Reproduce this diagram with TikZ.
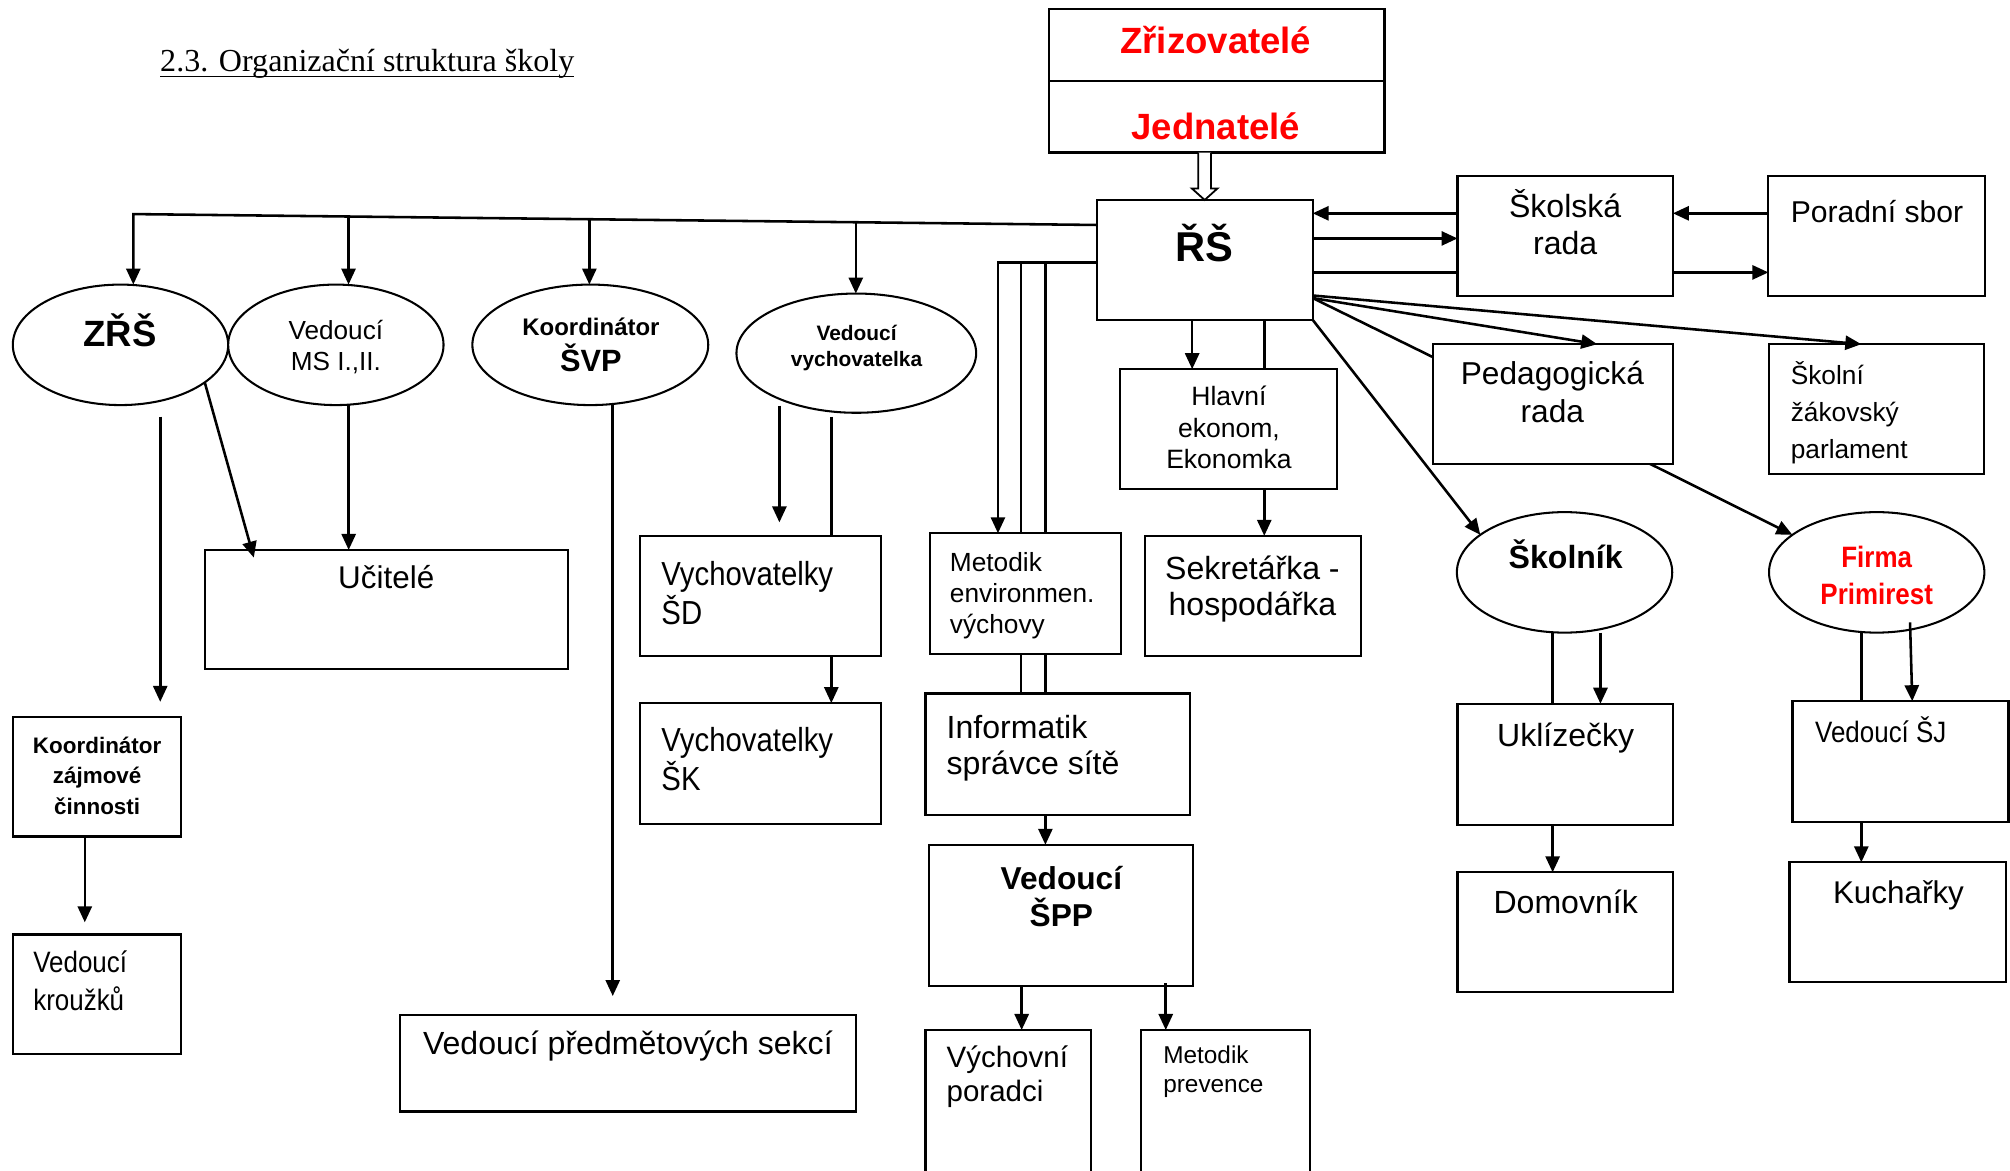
\documentclass[tikz,border=0pt]{standalone}
\usepackage{fontspec}
\setmainfont{Liberation Sans}
\newfontfamily\narrowf[FakeStretch=0.88]{Liberation Sans}
\newfontfamily\serf{Liberation Serif}
\usetikzlibrary{arrows.meta,shapes.geometric,calc}
\pgfdeclarelayer{bg}
\pgfsetlayers{bg,main}
\definecolor{zred}{RGB}{255,0,0}
\newcommand\fs[2]{\fontsize{#1pt}{#2pt}\selectfont}
\newcommand\clines[1]{\vtop{\halign{\hfil##\hfil\cr#1\crcr}}}
\newcommand\llines[1]{\vtop{\halign{##\hfil\cr#1\crcr}}}
\begin{document}
\begin{tikzpicture}[x=1pt,y=-1pt,
  box/.style={draw, line width=1.7pt, fill=white, rectangle, inner sep=0pt, outer sep=0pt},
  oval/.style={draw, line width=1.6pt, fill=white, ellipse, inner sep=0pt, outer sep=0pt},
  txt/.style={inner sep=0pt, outer sep=0pt, anchor=base},
  ltxt/.style={inner sep=0pt, outer sep=0pt, anchor=base west},
  con/.style={line width=2pt},
  arr/.style={con, -{Triangle[length=12.5pt,width=11pt]}}]
\useasboundingbox (0,0) rectangle (1568,913);

% ---------- boxes ----------
\node[box, minimum width=262pt, minimum height=112pt] (zr) at (949,63) {};
\node[box, minimum width=168.5pt, minimum height=93.5pt] (rs) at (939.75,202.75) {};
\node[box, minimum width=168pt, minimum height=94pt] (sr) at (1221,184) {};
\node[box, minimum width=169pt, minimum height=94pt] (por) at (1464,184) {};
\node[box, minimum width=187pt, minimum height=93.5pt] (pr) at (1211.5,315.25) {};
\node[box, minimum width=168pt, minimum height=101pt] (parl) at (1464,319) {};
\node[box, minimum width=169pt, minimum height=93.5pt] (he) at (958.5,334.75) {};
\node[box, minimum width=168.5pt, minimum height=94pt] (sek) at (977.25,465) {};
\node[box, minimum width=149pt, minimum height=94pt] (me) at (800,463) {};
\node[box, minimum width=206pt, minimum height=95pt] (inf) at (825,588.5) {};
\node[box, minimum width=206pt, minimum height=110pt] (spp) at (827.5,714) {};
\node[box, minimum width=129pt, minimum height=126.5pt] (vp) at (786.5,866.75) {};
\node[box, minimum width=132pt, minimum height=126.5pt] (mp) at (956,866.75) {};
\node[box, minimum width=283pt, minimum height=93pt] (uc) at (301.5,475.5) {};
\node[box, minimum width=131.3pt, minimum height=93pt] (kzc) at (75.65,606) {};
\node[box, minimum width=131.3pt, minimum height=93pt] (vk) at (75.65,775.5) {};
\node[box, minimum width=355.5pt, minimum height=75.5pt] (vps) at (489.75,829.25) {};
\node[box, minimum width=188pt, minimum height=94pt] (sd) at (593,465) {};
\node[box, minimum width=188pt, minimum height=94pt] (sk) at (593,595.5) {};
\node[box, minimum width=168pt, minimum height=94.5pt] (ukl) at (1221,596.25) {};
\node[box, minimum width=168pt, minimum height=93.5pt] (dom) at (1221,727.25) {};
\node[box, minimum width=168.5pt, minimum height=94pt] (sj) at (1482.5,594) {};
\node[box, minimum width=168.7pt, minimum height=93.1pt] (kuch) at (1480.35,719.25) {};

% ---------- ellipses ----------
\node[oval, minimum width=168pt, minimum height=94pt] (zrs) at (94,269) {};
\node[oval, minimum width=168pt, minimum height=94pt] (ms) at (262,269) {};
\node[oval, minimum width=184pt, minimum height=94pt] (svp) at (460.5,269) {};
\node[oval, minimum width=187pt, minimum height=93pt] (vych) at (668,275.5) {};
\node[oval, minimum width=168pt, minimum height=94pt] (skol) at (1220.5,446.5) {};
\node[oval, minimum width=168pt, minimum height=94pt] (firma) at (1464,446.5) {};

\draw[line width=1.7pt] (zr.west) -- (zr.east);

% ---------- texts ----------
\node[ltxt, font=\serf\fs{25}{30}] (title) at (125,56) {2.3. Organizační struktura školy};
\draw[line width=1.2pt] ($(title.base west)+(0,3.5)$) -- ($(title.base east)+(0,3.5)$);
\node[txt, font=\bfseries\fs{28.5}{32}, text=zred] (t-zr) at (948.5,41.6) {Zřizovatelé};
\node[txt, font=\bfseries\fs{28.5}{32}, text=zred] (t-jd) at (948.5,109) {Jednatelé};
\node[txt, font=\bfseries\fs{32.5}{36}] (t-rs) at (939.5,204) {ŘŠ};
\node[txt, font=\fs{25}{28.5}] (t-sr) at (1221,170) {\clines{Školská\cr rada}};
\node[ltxt, font=\fs{23.5}{27}] (t-por) at (1397,173.5) {Poradní sbor};
\node[txt, font=\fs{24.7}{29.4}] (t-pr) at (1211,300) {\clines{Pedagogická\cr rada}};
\node[ltxt, font=\fs{20.5}{28.8}] (t-parl) at (1397,300) {\llines{Školní\cr žákovský\cr parlament}};
\node[txt, font=\fs{20.7}{24.5}] (t-he) at (958.7,316.7) {\clines{Hlavní\cr ekonom,\cr Ekonomka}};
\node[txt, font=\fs{25}{28.5}] (t-sek) at (977,452) {\clines{Sekretářka -\cr hospodářka}};
\node[ltxt, font=\fs{20.5}{24.2}] (t-me) at (741,446) {\llines{Metodik\cr environmen.\cr výchovy}};
\node[ltxt, font=\fs{25}{28.5}] (t-inf) at (738.5,576) {\llines{Informatik\cr správce sítě}};
\node[txt, font=\bfseries\fs{24.7}{28.5}] (t-spp) at (828,694) {\clines{Vedoucí\cr ŠPP}};
\node[ltxt, font=\fs{23}{26}] (t-vp) at (738.5,833) {\llines{Výchovní\cr poradci}};
\node[ltxt, font=\fs{19}{22}] (t-mp) at (907.5,830) {\llines{Metodik\cr prevence}};
\node[txt, font=\bfseries\fs{25}{28}] (t-skol) at (1221.4,443.4) {Školník};
\node[txt, font=\narrowf\bfseries\fs{23}{28.8}, text=zred] (t-firma) at (1464,442.6) {\clines{Firma\cr Primirest}};
\node[txt, font=\fs{25}{28}] (t-ukl) at (1221.4,582) {Uklízečky};
\node[txt, font=\fs{25}{28}] (t-dom) at (1221.4,712.5) {Domovník};
\node[ltxt, font=\narrowf\fs{23}{27}] (t-sj) at (1416,579.4) {Vedoucí ŠJ};
\node[txt, font=\fs{24.5}{28}] (t-kuch) at (1481,704.7) {Kuchařky};
\node[txt, font=\fs{24.5}{28}] (t-uc) at (301.3,459.2) {Učitelé};
\node[txt, font=\fs{25}{28}] (t-vps) at (489.8,822.5) {Vedoucí předmětových sekcí};
\node[ltxt, font=\narrowf\fs{26}{30.6}] (t-sd) at (516,456.4) {\llines{Vychovatelky\cr ŠD}};
\node[ltxt, font=\narrowf\fs{26}{30.6}] (t-sk) at (516,586.4) {\llines{Vychovatelky\cr ŠK}};
\node[txt, font=\bfseries\fs{17.5}{23.8}] (t-kzc) at (75.8,587.5) {\clines{Koordinátor\cr zájmové\cr činnosti}};
\node[ltxt, font=\narrowf\fs{23}{29}] (t-vk) at (26,759) {\llines{Vedoucí\cr kroužků}};
\node[txt, font=\bfseries\fs{28.5}{32}] (t-zrs) at (93.5,270.4) {ZŘŠ};
\node[txt, font=\fs{20.4}{24}] (t-ms) at (262,265) {\clines{Vedoucí\cr MS I.,II.}};
\node[txt, font=\bfseries\fs{24}{27.5}] (t-svp) at (461,262) {\clines{\fs{18.7}{22}Koordinátor\cr ŠVP}};
\node[txt, font=\bfseries\fs{16.3}{20}] (t-vych) at (668.2,266) {\clines{Vedoucí\cr vychovatelka}};

% ---------- hollow arrow Zřizovatelé -> ŘŠ ----------
\coordinate (oa) at (rs.north |- zr.south);
\filldraw[fill=white, line width=1.4pt] ($(oa)+(-5,0)$) -- ($(rs.north)+(-5,-9)$) -- ($(rs.north)+(-10,-9)$) -- (rs.north) -- ($(rs.north)+(10,-9)$) -- ($(rs.north)+(5,-9)$) -- ($(oa)+(5,0)$);

% ---------- connectors (front) ----------
\coordinate (tl) at (104,167);
\coordinate (rsl) at ($(rs.north west)+(0,19.5)$);
\draw[arr] (rsl) -- (tl) -- (tl |- zrs.north);
\coordinate (b2) at ($(tl)!0.2234!(rsl)$);
\draw[arr] (b2) -- (b2 |- ms.north);
\coordinate (b3) at ($(tl)!0.4734!(rsl)$);
\draw[arr] (b3) -- (b3 |- svp.north);
\coordinate (b4) at ($(tl)!0.75!(rsl)$);
\draw[arr] (b4) -- (b4 |- vych.north);

\coordinate (z1) at ($(zrs.south)+(31,9)$);
\draw[arr] (z1) -- ($(z1 |- kzc.north)+(0,-12)$);
\draw[arr] (zrs.-24) -- ($(uc.north west)+(38,6)$);
\coordinate (m1) at ($(ms.south)+(10,0)$);
\draw[arr] (m1) -- (m1 |- uc.north);
\coordinate (s1) at ($(svp.south)+(17.5,0)$);
\draw[arr] (s1) -- ($(s1 |- vps.north)+(0,-14.5)$);
\coordinate (v1) at ($(vych.center)+(-60,41)$);
\draw[arr] (v1) -- ($(v1 |- sd.north)+(0,-10.5)$);
\coordinate (k1) at ($(kzc.south)+(-9.5,0)$);
\draw[arr] (k1) -- ($(k1 |- vk.north)+(0,-9.5)$);

\coordinate (y1) at (0,166.4);
\coordinate (y2) at (0,186);
\coordinate (y3) at (0,212.5);
\coordinate (y4) at (0,232.5);
\coordinate (y5) at (0,230.5);
\coordinate (y6) at (0,204.8);
\draw[arr] (sr.west |- y1) -- (rs.east |- y1);
\draw[arr] (rs.east |- y2) -- (sr.west |- y2);
\draw[arr] (por.west |- y1) -- (sr.east |- y1);
\draw[arr] (rs.east |- y4) -- ($(pr.north)+(34.5,0)$);
\draw[arr] (rs.east |- y5) -- ($(parl.north)+(-12,0)$);
\draw[arr] (rs.south east) -- (skol.156.5);
\coordinate (h1) at ($(rs.south)+(-9.75,0)$);
\draw[arr] (h1) -- (h1 |- he.north);
\coordinate (kx1) at ($(me.north west)+(53,0)$);
\coordinate (kx2) at ($(me.north west)+(71,0)$);
\coordinate (kx3) at ($(me.north west)+(90,0)$);
\draw[arr] (rs.west |- y6) -- (kx1 |- y6) -- (kx1);
\coordinate (p1) at ($(vp.north west)+(75,0)$);
\draw[arr] (p1 |- spp.south) -- (p1);
\coordinate (p2) at ($(mp.north west)+(19.4,0)$);
\draw[arr] ($(p2 |- spp.south)+(0,-2)$) -- (p2);
\coordinate (u1) at ($(skol.south)+(28,0)$);
\draw[arr] (u1) -- (u1 |- ukl.north);
\draw[arr] ($(firma.center)+(26,39)$) -- ($(sj.north west)+(93.5,0)$);

% ---------- connectors passing behind boxes ----------
\begin{pgfonlayer}{bg}
\draw[arr] (rs.east |- y3) -- (por.west |- y3);
\draw[arr] (rs.east |- y4) -- ($(pr.south)+(76,0)$) -- (firma.156.6);
\coordinate (h2) at ($(rs.south)+(46.5,0)$);
\draw[arr] (h2) -- (h2 |- sek.north);
\draw[con] (kx2 |- y6) -- (kx2 |- inf.north);
\draw[arr] (kx3 |- y6) -- (kx3 |- spp.north);
\coordinate (v2) at ($(vych.center)+(-19.5,49.5)$);
\draw[arr] (v2) -- (v2 |- sk.north);
\coordinate (u2) at ($(skol.south)+(-9.3,0)$);
\draw[arr] (u2) -- (u2 |- dom.north);
\coordinate (f1) at ($(firma.south)+(-12,0)$);
\draw[arr] (f1) -- (f1 |- kuch.north);
\end{pgfonlayer}
\end{tikzpicture}
\end{document}
